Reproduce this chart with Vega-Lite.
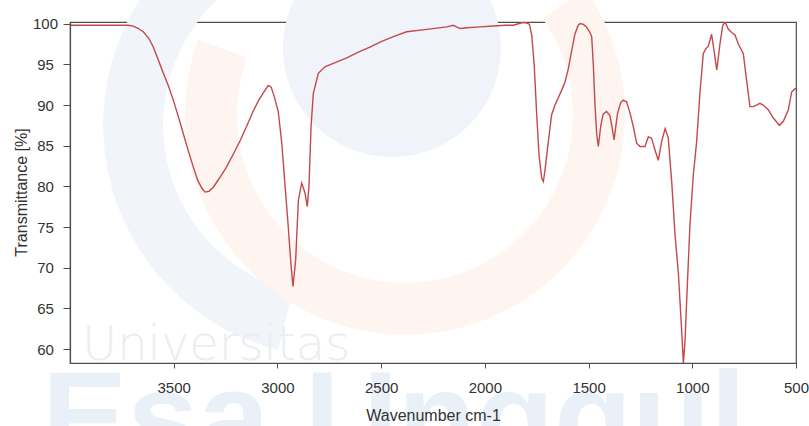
{
  "$schema": "https://vega.github.io/schema/vega-lite/v6.json",
  "width": 726,
  "height": 341,
  "autosize": {"type": "none"},
  "padding": {"left": 70, "top": 22, "right": 13, "bottom": 63},
  "background": "white",
  "config": {
    "view": {"stroke": "#4d4d4d", "strokeWidth": 1.2},
    "font": "Liberation Sans",
    "axis": {
      "grid": false,
      "domainColor": "#4d4d4d",
      "domainWidth": 1.2,
      "tickColor": "#4d4d4d",
      "labelColor": "#333333",
      "titleColor": "#333333",
      "labelFont": "Liberation Sans",
      "titleFont": "Liberation Sans",
      "titleFontWeight": "normal"
    }
  },
  "datasets": {
    "spectrum": [
      {"w": 4000, "t": 99.8}, {"w": 3900, "t": 99.8}, {"w": 3800, "t": 99.8}, {"w": 3720, "t": 99.8},
      {"w": 3695, "t": 99.7}, {"w": 3670, "t": 99.4}, {"w": 3647, "t": 99.0}, {"w": 3620, "t": 98.2},
      {"w": 3598, "t": 97.1}, {"w": 3575, "t": 95.6}, {"w": 3550, "t": 93.9}, {"w": 3525, "t": 92.3},
      {"w": 3502, "t": 90.6}, {"w": 3478, "t": 88.6}, {"w": 3454, "t": 86.5}, {"w": 3430, "t": 84.4},
      {"w": 3406, "t": 82.4}, {"w": 3385, "t": 80.8}, {"w": 3365, "t": 79.8}, {"w": 3349, "t": 79.3},
      {"w": 3330, "t": 79.4}, {"w": 3309, "t": 79.9}, {"w": 3280, "t": 81.0}, {"w": 3245, "t": 82.4},
      {"w": 3210, "t": 84.1}, {"w": 3180, "t": 85.6}, {"w": 3150, "t": 87.3}, {"w": 3116, "t": 89.3},
      {"w": 3090, "t": 90.6}, {"w": 3068, "t": 91.5}, {"w": 3044, "t": 92.4}, {"w": 3030, "t": 92.2},
      {"w": 3015, "t": 91.0}, {"w": 2996, "t": 89.2}, {"w": 2979, "t": 85.3}, {"w": 2963, "t": 80.0},
      {"w": 2948, "t": 75.1}, {"w": 2935, "t": 70.5}, {"w": 2925, "t": 67.7}, {"w": 2912, "t": 71.0},
      {"w": 2899, "t": 78.3}, {"w": 2883, "t": 80.4}, {"w": 2867, "t": 79.2}, {"w": 2856, "t": 77.5},
      {"w": 2848, "t": 80.0}, {"w": 2838, "t": 87.3}, {"w": 2827, "t": 91.4}, {"w": 2803, "t": 93.9},
      {"w": 2771, "t": 94.7}, {"w": 2722, "t": 95.2}, {"w": 2666, "t": 95.8}, {"w": 2610, "t": 96.5},
      {"w": 2554, "t": 97.1}, {"w": 2500, "t": 97.8}, {"w": 2441, "t": 98.4}, {"w": 2377, "t": 99.0},
      {"w": 2280, "t": 99.3}, {"w": 2184, "t": 99.6}, {"w": 2152, "t": 99.8}, {"w": 2120, "t": 99.4},
      {"w": 2087, "t": 99.5}, {"w": 2020, "t": 99.6}, {"w": 1959, "t": 99.7}, {"w": 1900, "t": 99.8},
      {"w": 1863, "t": 99.8}, {"w": 1822, "t": 100.1}, {"w": 1800, "t": 100.1}, {"w": 1785, "t": 99.9},
      {"w": 1774, "t": 98.6}, {"w": 1762, "t": 94.9}, {"w": 1750, "t": 88.8}, {"w": 1739, "t": 83.9},
      {"w": 1726, "t": 81.0}, {"w": 1718, "t": 80.6}, {"w": 1710, "t": 82.0}, {"w": 1694, "t": 85.5},
      {"w": 1678, "t": 88.8}, {"w": 1662, "t": 90.0}, {"w": 1646, "t": 90.9}, {"w": 1630, "t": 91.8},
      {"w": 1614, "t": 92.8}, {"w": 1598, "t": 94.4}, {"w": 1582, "t": 96.6}, {"w": 1566, "t": 98.7},
      {"w": 1550, "t": 99.8}, {"w": 1541, "t": 100.0}, {"w": 1525, "t": 99.9}, {"w": 1510, "t": 99.6},
      {"w": 1495, "t": 99.0}, {"w": 1485, "t": 98.4}, {"w": 1477, "t": 94.9}, {"w": 1469, "t": 90.0},
      {"w": 1461, "t": 86.5}, {"w": 1453, "t": 84.9}, {"w": 1441, "t": 87.5}, {"w": 1429, "t": 88.9},
      {"w": 1413, "t": 89.2}, {"w": 1397, "t": 88.7}, {"w": 1385, "t": 87.0}, {"w": 1377, "t": 85.7},
      {"w": 1368, "t": 87.5}, {"w": 1360, "t": 89.0}, {"w": 1345, "t": 90.3}, {"w": 1333, "t": 90.6},
      {"w": 1317, "t": 90.4}, {"w": 1300, "t": 89.0}, {"w": 1284, "t": 87.3}, {"w": 1268, "t": 85.3},
      {"w": 1252, "t": 84.9}, {"w": 1228, "t": 84.9}, {"w": 1212, "t": 86.1}, {"w": 1196, "t": 85.9},
      {"w": 1180, "t": 84.5}, {"w": 1164, "t": 83.2}, {"w": 1147, "t": 85.6}, {"w": 1131, "t": 87.1},
      {"w": 1116, "t": 86.0}, {"w": 1099, "t": 80.5}, {"w": 1083, "t": 74.0}, {"w": 1067, "t": 69.3},
      {"w": 1051, "t": 62.2}, {"w": 1043, "t": 58.3}, {"w": 1035, "t": 61.0}, {"w": 1027, "t": 66.0},
      {"w": 1011, "t": 75.4}, {"w": 995, "t": 81.4}, {"w": 979, "t": 85.5}, {"w": 963, "t": 91.5},
      {"w": 947, "t": 96.3}, {"w": 935, "t": 96.9}, {"w": 923, "t": 97.2}, {"w": 907, "t": 98.7},
      {"w": 894, "t": 96.5}, {"w": 882, "t": 94.3}, {"w": 866, "t": 97.6}, {"w": 853, "t": 99.8},
      {"w": 842, "t": 100.2}, {"w": 826, "t": 99.3}, {"w": 810, "t": 98.9}, {"w": 794, "t": 98.6},
      {"w": 778, "t": 97.5}, {"w": 754, "t": 96.3}, {"w": 738, "t": 93.0}, {"w": 722, "t": 89.8},
      {"w": 706, "t": 89.8}, {"w": 690, "t": 90.0}, {"w": 674, "t": 90.2}, {"w": 658, "t": 90.0},
      {"w": 633, "t": 89.4}, {"w": 609, "t": 88.4}, {"w": 580, "t": 87.5}, {"w": 561, "t": 88.0},
      {"w": 537, "t": 89.4}, {"w": 521, "t": 91.6}, {"w": 505, "t": 92.0}, {"w": 500, "t": 92.0}
    ]
  },
  "layer": [
    {
      "data": {"values": [{}]},
      "mark": {"type": "arc", "radius": 232, "radius2": 172, "theta": 3.39, "theta2": 5.95, "color": "#f1f4f9", "clip": false},
      "encoding": {"x": {"datum": 2722}, "y": {"datum": 87.55}}
    },
    {
      "data": {"values": [{}]},
      "mark": {"type": "arc", "radius": 220, "radius2": 168, "theta": 0.96, "theta2": 5.06, "color": "#fef5f1", "clip": false},
      "encoding": {"x": {"datum": 2385}, "y": {"datum": 88.8}}
    },
    {
      "data": {"values": [{}]},
      "mark": {"type": "arc", "radius": 109, "theta": 0, "theta2": 6.2832, "color": "#f0f3f9", "clip": false},
      "encoding": {"x": {"datum": 2448}, "y": {"datum": 97.0}}
    },
    {
      "data": {"values": [{}]},
      "mark": {"type": "text", "text": "Esa Unggul", "font": "Liberation Sans", "fontWeight": "bold", "fontSize": 128, "color": "#eaf0f8", "align": "left", "baseline": "alphabetic", "clip": false},
      "encoding": {"x": {"datum": 4135}, "y": {"datum": 46.3}}
    },
    {
      "data": {"values": [{}]},
      "mark": {"type": "text", "text": "Universitas", "font": "DejaVu Sans", "fontWeight": 300, "fontSize": 48, "color": "#ececf1", "align": "left", "baseline": "alphabetic", "clip": false},
      "encoding": {"x": {"datum": 3942}, "y": {"datum": 58.67}}
    },
    {
      "data": {"name": "spectrum"},
      "mark": {"type": "line", "color": "#c3494b", "strokeWidth": 1.4, "clip": true},
      "encoding": {
        "x": {
          "field": "w",
          "type": "quantitative",
          "scale": {"domain": [500, 4000], "reverse": true, "nice": false, "zero": false},
          "axis": {
            "title": "Wavenumber cm-1",
            "values": [3500, 3000, 2500, 2000, 1500, 1000, 500],
            "format": "d",
            "zindex": 2,
            "labelFontSize": 15,
            "titleFontSize": 16,
            "tickSize": 5,
            "labelPadding": 12,
            "labelFlush": false,
            "labelOverlap": false,
            "labelBound": false,
            "titleBaseline": "alphabetic",
            "titleY": 57
          }
        },
        "y": {
          "field": "t",
          "type": "quantitative",
          "scale": {"domain": [58.3, 100.2], "nice": false, "zero": false},
          "axis": {
            "title": "Transmittance [%]",
            "values": [60, 65, 70, 75, 80, 85, 90, 95, 100],
            "zindex": 2,
            "labelFontSize": 15,
            "labelAlign": "center",
            "labelBaseline": "middle",
            "labelPadding": 18,
            "labelOverlap": false,
            "labelBound": false,
            "tickSize": 7,
            "titleFontSize": 16,
            "titleAngle": 270,
            "titleBaseline": "alphabetic",
            "titleX": -44,
            "titleY": 170
          }
        }
      }
    }
  ]
}
